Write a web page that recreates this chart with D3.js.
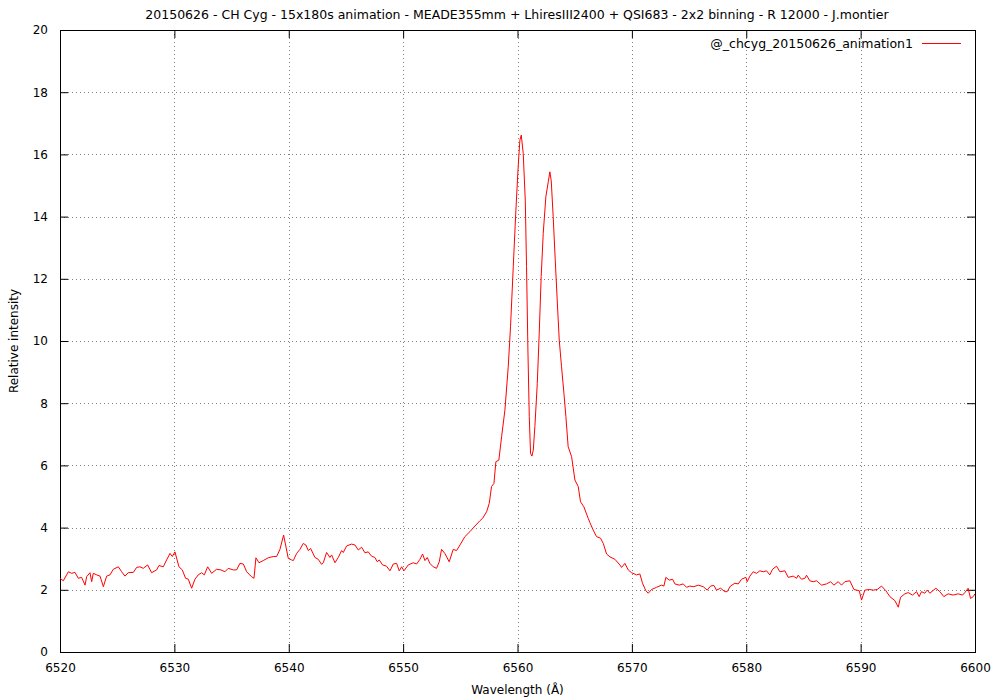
<!DOCTYPE html>
<html><head><meta charset="utf-8">
<script src="https://cdn.jsdelivr.net/npm/d3@7"></script>
<style>body{margin:0;background:#fff}svg{display:block}text{font-family:"DejaVu Sans",sans-serif;font-size:12px;fill:#000}</style>
</head><body><svg id="c" width="1000" height="700"></svg>
<script>
const titleText = "20150626 - CH Cyg - 15x180s animation - MEADE355mm + LhiresIII2400 + QSI683 - 2x2 binning - R 12000 - J.montier";
const seriesName = "@_chcyg_20150626_animation1";
const xLabel = "Wavelength (Å)";
const yLabel = "Relative intensity";
const xTicks = [6520,6530,6540,6550,6560,6570,6580,6590,6600];
const yTicks = [0,2,4,6,8,10,12,14,16,18,20];

const wavelength = [
6520.00,6520.29,6520.73,6521.02,6521.31,6521.60,6521.89,6522.19,6522.33,6522.62,6522.77,6522.91,6523.21,6523.50,6523.79,6524.08,6524.37,6524.66,6525.10,6525.39,6525.68,6525.97,6526.41,6526.70,6526.99,6527.28,6527.66,6528.01,6528.45,6528.65,6529.03,6529.32,6529.62,6529.82,6530.05,6530.40,6530.69,6530.98,6531.22,6531.51,6531.80,6532.09,6532.38,6532.62,6532.91,6533.26,6533.69,6534.07,6534.42,6534.71,6535.15,6535.44,6535.73,6536.03,6536.32,6536.75,6536.96,6537.13,6537.40,6537.77,6538.21,6538.65,6538.94,6539.23,6539.55,6539.96,6540.25,
6540.40,6540.69,6540.98,6541.27,6541.50,6541.71,6541.91,6542.29,6542.58,6542.87,6543.02,6543.31,6543.60,6543.75,6544.04,6544.33,6544.62,6544.77,6545.06,6545.50,6545.79,6546.08,6546.37,6546.66,6546.95,6547.24,6547.53,6547.74,6547.91,6548.20,6548.55,6548.85,6549.14,6549.43,6549.66,6549.87,6550.07,6550.45,6550.89,6551.18,6551.47,6551.70,6551.91,6552.11,6552.34,6552.63,6552.92,6553.16,6553.36,6553.65,6554.03,6554.38,6554.67,6555.02,6555.40,6555.84,6556.28,6556.71,
6556.95,6557.30,6557.53,6557.73,6557.94,6558.11,6558.37,6558.61,6558.90,6559.19,6559.39,6559.63,6559.86,6560.06,6560.21,6560.33,6560.50,6560.68,6560.79,6560.91,6561.03,6561.14,6561.26,6561.38,6561.52,6561.73,6561.90,6562.07,6562.25,6562.48,6562.69,6562.83,6562.95,6563.12,6563.30,6563.47,6563.65,6563.85,6564.06,6564.23,6564.43,6564.73,6565.02,6565.31,6565.51,6565.80,6566.18,
6566.33,6566.62,6566.91,6567.26,6567.50,6567.79,6568.08,6568.52,6568.95,6569.10,6569.39,6569.68,6569.97,6570.41,6570.70,6570.93,6571.22,6571.43,6571.72,6572.16,6572.59,6572.80,6572.97,6573.27,6573.56,6573.76,6574.14,6574.49,6574.78,6575.07,6575.42,6575.80,6576.24,6576.59,6576.88,6577.17,6577.40,6577.75,6578.13,6578.33,6578.62,6579.00,6579.30,6579.59,6579.97,6580.08,6580.32,6580.61,6580.90,6581.19,6581.48,6581.77,6582.06,6582.30,6582.65,6582.94,
6583.38,6583.67,6584.11,6584.40,6584.54,6584.83,6585.13,6585.27,6585.56,6585.85,6586.15,6586.58,6587.02,6587.37,6587.66,6588.04,6588.33,6588.62,6589.06,6589.41,6589.88,6590.08,6590.37,6590.75,6591.10,6591.45,6591.83,6592.21,6592.56,6593.00,6593.29,6593.49,6593.87,6594.16,6594.54,6594.89,6595.12,6595.32,6595.61,6595.82,6596.05,6596.58,6596.93,6597.28,6597.65,6598.09,6598.53,6598.91,6599.11,6599.40,6599.61,6599.84,6600.00
];
const intensity = [
2.37,2.29,2.58,2.53,2.56,2.37,2.40,2.15,2.42,2.55,2.26,2.53,2.48,2.44,2.10,2.44,2.48,2.66,2.74,2.58,2.44,2.55,2.56,2.72,2.74,2.69,2.80,2.55,2.64,2.78,2.74,2.96,3.17,3.07,3.22,2.74,2.64,2.37,2.34,2.05,2.34,2.48,2.55,2.48,2.74,2.53,2.66,2.64,2.58,2.69,2.64,2.64,2.85,2.83,2.58,2.42,2.37,3.03,2.87,2.94,3.03,3.07,3.07,3.30,3.76,3.01,2.96,
2.94,3.17,3.30,3.49,3.44,3.26,3.33,3.04,2.98,2.82,2.87,3.20,3.04,3.12,2.87,3.04,3.26,3.20,3.41,3.47,3.44,3.28,3.37,3.19,3.22,3.08,3.04,2.90,2.96,2.80,2.76,2.61,2.83,2.85,2.61,2.74,2.61,2.80,2.87,2.83,2.98,3.15,2.94,3.04,2.85,2.74,2.69,2.90,3.30,3.17,2.90,3.30,3.26,3.47,3.71,3.87,4.05,4.22,
4.30,4.51,4.78,5.32,5.42,6.12,6.17,6.92,7.78,9.17,10.46,12.39,14.21,15.61,16.46,16.62,16.03,14.53,12.39,9.71,7.57,6.39,6.30,6.49,7.25,8.64,10.25,12.07,13.46,14.64,15.12,15.44,15.15,14.00,12.60,11.32,10.03,9.17,8.32,7.57,6.60,6.28,5.53,5.32,4.83,4.67,4.30,
4.16,3.92,3.71,3.66,3.49,3.15,3.06,2.98,2.80,2.72,2.85,2.64,2.55,2.48,2.51,2.21,1.97,1.89,2.01,2.08,2.15,2.12,2.40,2.31,2.34,2.19,2.15,2.19,2.08,2.12,2.10,2.15,2.10,1.99,2.12,2.14,1.99,2.05,1.94,1.94,2.12,2.21,2.19,2.34,2.40,2.26,2.44,2.58,2.53,2.61,2.58,2.61,2.48,2.66,2.76,2.58,
2.61,2.40,2.44,2.37,2.47,2.34,2.37,2.47,2.29,2.26,2.29,2.15,2.19,2.26,2.15,2.26,2.15,2.26,2.29,2.01,1.97,1.67,1.99,2.01,1.99,2.01,2.12,1.97,1.78,1.65,1.44,1.76,1.87,1.91,1.83,1.94,1.78,1.94,1.89,1.99,1.89,2.05,1.94,1.78,1.87,1.83,1.87,1.83,1.91,2.05,1.72,1.78,1.87
];

const W = 1000, H = 700;
const m = {left:60, right:25, top:30, bottom:48};
const svg = d3.select("#c");
const x = d3.scaleLinear().domain([6520,6600]).range([m.left, W - m.right]);
const y = d3.scaleLinear().domain([0,20]).range([H - m.bottom, m.top]);
const x0 = m.left, x1 = W - m.right, y0 = H - m.bottom, y1 = m.top;
const tl = 8;

// grid
const g = svg.append("g").attr("stroke","#808080").attr("stroke-width",1).attr("stroke-dasharray","1,3").attr("shape-rendering","crispEdges");
xTicks.slice(1,-1).forEach(t => g.append("line").attr("x1",Math.round(x(t))+0.5).attr("x2",Math.round(x(t))+0.5).attr("y1",y1).attr("y2",y0));
yTicks.slice(1,-1).forEach(t => g.append("line").attr("y1",Math.round(y(t))+0.5).attr("y2",Math.round(y(t))+0.5).attr("x1",x0).attr("x2",x1));

// axes with inward ticks, mirrored
const fmt = d3.format("d");
const axB = svg.append("g").attr("transform",`translate(0,${y0})`).call(d3.axisBottom(x).tickValues(xTicks).tickFormat(fmt).tickSizeInner(-tl).tickSizeOuter(0).tickPadding(tl+3));
const axT = svg.append("g").attr("transform",`translate(0,${y1})`).call(d3.axisTop(x).tickValues(xTicks).tickFormat("").tickSizeInner(-tl).tickSizeOuter(0));
const axL = svg.append("g").attr("transform",`translate(${x0},0)`).call(d3.axisLeft(y).tickValues(yTicks).tickFormat(fmt).tickSizeInner(-tl).tickSizeOuter(0).tickPadding(tl+4));
const axR = svg.append("g").attr("transform",`translate(${x1},0)`).call(d3.axisRight(y).tickValues(yTicks).tickFormat("").tickSizeInner(-tl).tickSizeOuter(0));
[axB,axT,axL,axR].forEach(a => { a.select(".domain").remove(); a.selectAll("text").style("font-family","DejaVu Sans").style("font-size","12px"); a.selectAll("line").attr("stroke","#000"); });
axB.selectAll("text").attr("dy","0.71em");

svg.append("rect").attr("x",x0+0.5).attr("y",y1+0.5).attr("width",x1-x0).attr("height",y0-y1).attr("fill","none").attr("stroke","#000").attr("stroke-width",1);

// series
const pts = wavelength.map((w,i)=>[w,intensity[i]]);
svg.append("path").datum(pts).attr("fill","none").attr("stroke","#ff0000").attr("stroke-width",1)
  .attr("d", d3.line().x(d=>x(d[0])).y(d=>y(d[1])));

// title and labels
svg.append("text").attr("x",517).attr("y",19).attr("text-anchor","middle").style("font-size","12.5px").text(titleText);
svg.append("text").attr("x",(x0+x1)/2).attr("y",694).attr("text-anchor","middle").text(xLabel);
svg.append("text").attr("transform",`translate(18,${(y0+y1)/2}) rotate(-90)`).attr("text-anchor","middle").text(yLabel);

// legend
svg.append("text").attr("x",913).attr("y",48).attr("text-anchor","end").style("font-size","12.5px").text(seriesName);
svg.append("line").attr("x1",922).attr("x2",961).attr("y1",43.5).attr("y2",43.5).attr("stroke","#ff0000").attr("stroke-width",1);
</script></body></html>
